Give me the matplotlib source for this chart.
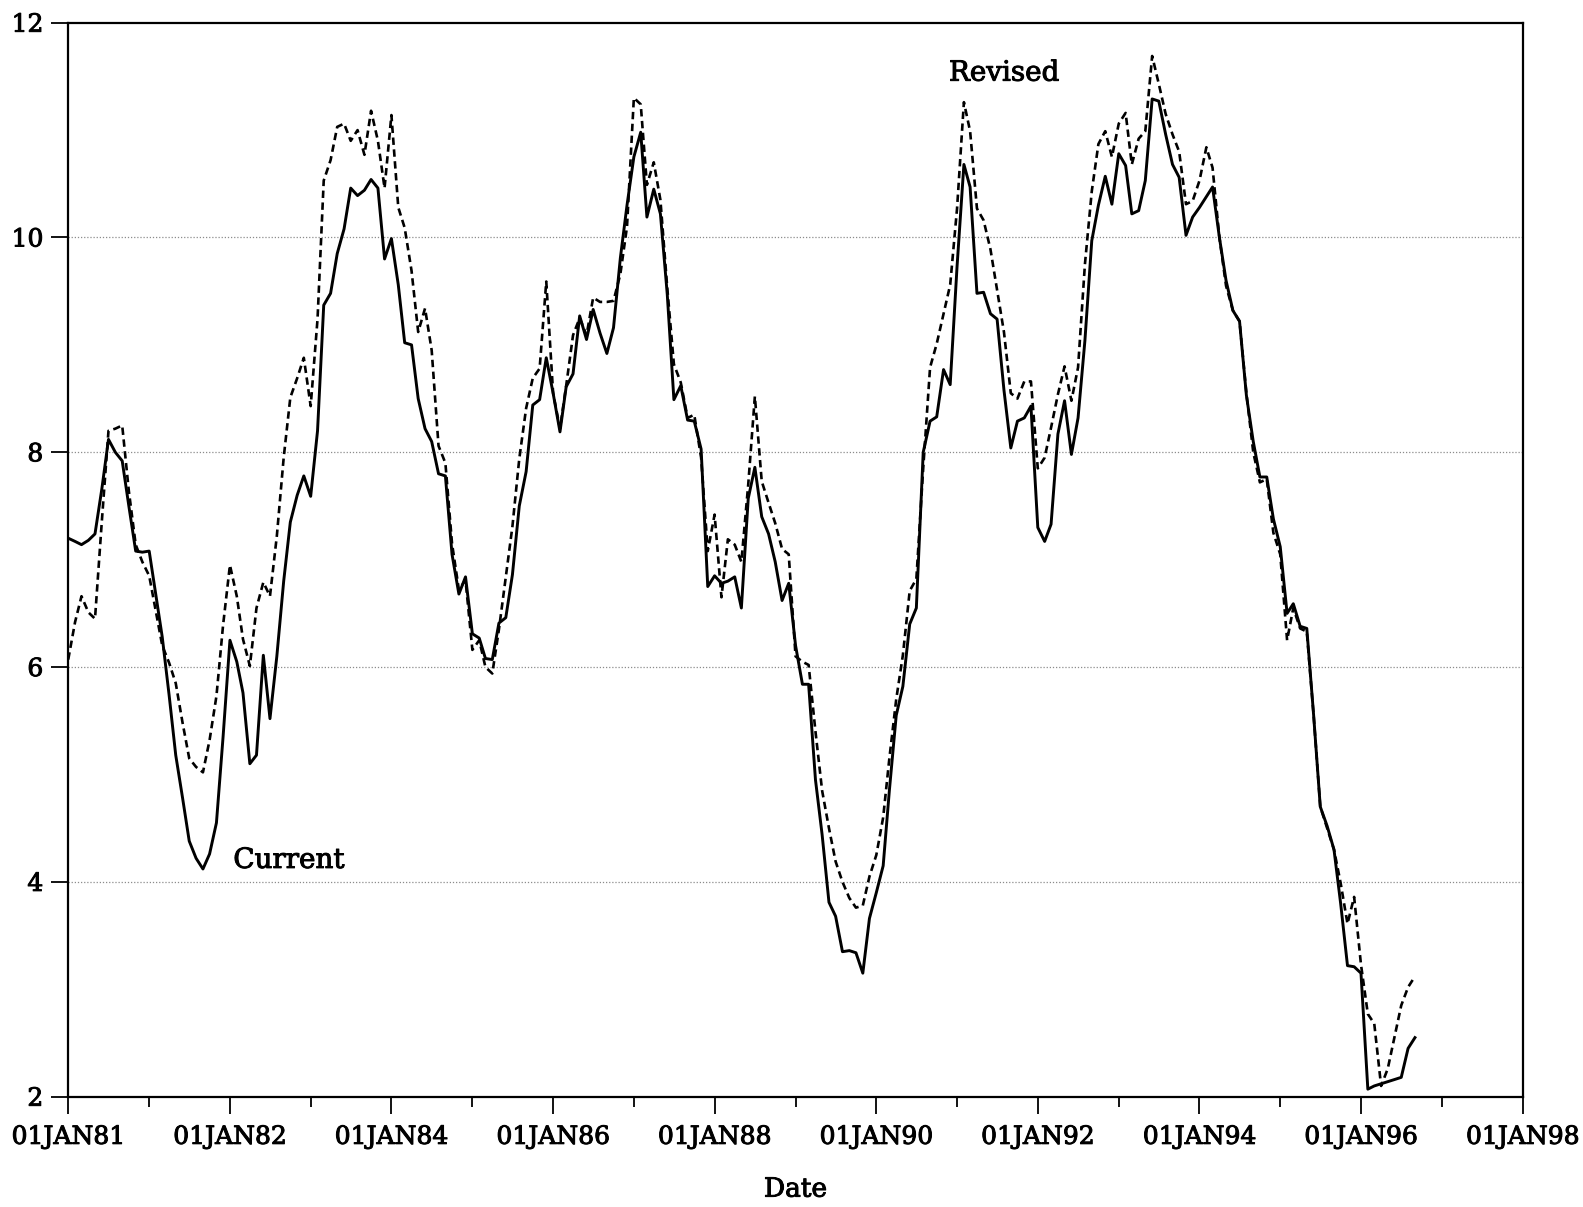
import numpy as np
import pandas as pd
import matplotlib
matplotlib.use("Agg")
import matplotlib.pyplot as plt
import matplotlib.dates as mdates
import matplotlib.patheffects as pe

# monthly series, Jan 1980 .. Sep 1996
months = pd.date_range("1980-01-01", periods=201, freq="MS")

current = [
    7.20, 7.17, 7.14, 7.18, 7.24, 7.66, 8.12, 8.00, 7.92, 7.50,
    7.08, 7.07, 7.08, 6.66, 6.28, 5.74, 5.18, 4.78, 4.38, 4.22,
    4.12, 4.26, 4.55, 5.35, 6.25, 6.05, 5.76, 5.10, 5.18, 6.11,
    5.52, 6.10, 6.80, 7.35, 7.60, 7.78, 7.59, 8.20, 9.37, 9.48,
    9.85, 10.08, 10.46, 10.39, 10.44, 10.54, 10.46, 9.80, 9.99, 9.56,
    9.02, 9.00, 8.50, 8.22, 8.10, 7.80, 7.78, 7.05, 6.68, 6.84,
    6.31, 6.27, 6.08, 6.07, 6.41, 6.46, 6.86, 7.50, 7.82, 8.44,
    8.49, 8.88, 8.55, 8.19, 8.61, 8.73, 9.27, 9.05, 9.33, 9.11,
    8.92, 9.16, 9.81, 10.30, 10.75, 10.98, 10.19, 10.45, 10.22, 9.47,
    8.49, 8.62, 8.30, 8.29, 8.03, 6.75, 6.85, 6.78, 6.80, 6.84,
    6.55, 7.57, 7.86, 7.40, 7.24, 6.98, 6.62, 6.78, 6.20, 5.84,
    5.84, 4.95, 4.44, 3.81, 3.68, 3.35, 3.36, 3.34, 3.15, 3.66,
    3.90, 4.15, 4.85, 5.55, 5.82, 6.40, 6.55, 8.00, 8.29, 8.33,
    8.77, 8.63, 9.73, 10.68, 10.47, 9.48, 9.49, 9.29, 9.24, 8.58,
    8.04, 8.29, 8.32, 8.43, 7.30, 7.17, 7.33, 8.17, 8.48, 7.98,
    8.32, 9.04, 9.97, 10.30, 10.57, 10.31, 10.78, 10.67, 10.22, 10.25,
    10.53, 11.29, 11.27, 10.96, 10.68, 10.56, 10.02, 10.19, 10.28, 10.38,
    10.47, 10.00, 9.60, 9.32, 9.22, 8.53, 8.10, 7.77, 7.77, 7.38,
    7.12, 6.50, 6.59, 6.38, 6.36, 5.55, 4.70, 4.52, 4.30, 3.80,
    3.22, 3.21, 3.15, 2.07, 2.10, 2.12, 2.14, 2.16, 2.18, 2.45,
    2.55,
]

revised = [
    6.07, 6.42, 6.66, 6.51, 6.45, 7.36, 8.20, 8.22, 8.25, 7.64,
    7.14, 6.98, 6.85, 6.51, 6.20, 6.04, 5.85, 5.48, 5.15, 5.07,
    5.02, 5.32, 5.73, 6.39, 6.95, 6.66, 6.26, 6.01, 6.55, 6.79,
    6.66, 7.22, 7.95, 8.51, 8.69, 8.88, 8.43, 9.24, 10.53, 10.72,
    11.03, 11.06, 10.90, 11.00, 10.77, 11.18, 10.90, 10.46, 11.14, 10.28,
    10.09, 9.69, 9.12, 9.34, 8.95, 8.06, 7.90, 7.15, 6.72, 6.81,
    6.16, 6.25, 6.00, 5.94, 6.35, 6.84, 7.31, 7.94, 8.41, 8.69,
    8.78, 9.59, 8.55, 8.22, 8.62, 9.09, 9.25, 9.09, 9.44, 9.40,
    9.40, 9.41, 9.66, 10.10, 11.30, 11.24, 10.49, 10.70, 10.35, 9.53,
    8.82, 8.65, 8.32, 8.35, 7.95, 7.08, 7.42, 6.65, 7.19, 7.14,
    6.98, 7.70, 8.52, 7.73, 7.53, 7.34, 7.10, 7.05, 6.10, 6.05,
    6.02, 5.40, 4.85, 4.50, 4.19, 4.00, 3.85, 3.76, 3.78, 4.05,
    4.25, 4.60, 5.15, 5.70, 6.11, 6.71, 6.82, 7.85, 8.79, 9.01,
    9.29, 9.56, 10.27, 11.26, 10.99, 10.27, 10.16, 9.89, 9.51, 9.12,
    8.55, 8.50, 8.66, 8.66, 7.85, 7.95, 8.23, 8.54, 8.80, 8.48,
    8.79, 9.75, 10.43, 10.87, 10.99, 10.75, 11.06, 11.16, 10.68, 10.92,
    10.99, 11.69, 11.43, 11.15, 10.96, 10.80, 10.31, 10.34, 10.53, 10.84,
    10.65, 10.00, 9.55, 9.32, 9.22, 8.55, 8.00, 7.72, 7.75, 7.25,
    7.05, 6.25, 6.55, 6.36, 6.33, 5.55, 4.70, 4.50, 4.30, 3.99,
    3.61, 3.86, 3.23, 2.77, 2.68, 2.10, 2.26, 2.56, 2.85, 3.02,
    3.12,
]

yticks = [2, 4, 6, 8, 10, 12]
grid_levels = [4, 6, 8, 10]
xtick_dates = pd.date_range("1980-01-01", "1998-01-01", freq="24MS")
xtick_labels = ["01JAN81", "01JAN82", "01JAN84", "01JAN86", "01JAN88",
                "01JAN90", "01JAN92", "01JAN94", "01JAN96", "01JAN98"]
minor_dates = pd.date_range("1981-01-01", "1997-01-01", freq="24MS")

plt.rcParams["font.family"] = ["DejaVu Serif"]

# slightly heavier text, like the scanned original
ink = [pe.withStroke(linewidth=0.7, foreground="black")]

fig = plt.figure(figsize=(15.83, 12.07), dpi=100)
ax = fig.add_axes([0.0431, 0.0914, 0.9188, 0.8898])

for g in grid_levels:
    ax.axhline(g, color="#8c8c8c", lw=0.9, ls=(0, (1, 1.5)), zorder=1)

ax.plot(months, current, color="black", lw=2.1, zorder=3)
ax.plot(months, revised, color="black", lw=1.9, ls=(0, (2.8, 1.7)), zorder=3)

ax.set_xlim(pd.Timestamp("1980-01-01"), pd.Timestamp("1998-01-01"))
ax.set_ylim(2, 12)
ax.set_yticks(yticks)
ax.set_yticklabels([str(t) for t in yticks])
ax.set_xticks(xtick_dates)
ax.set_xticklabels(xtick_labels)
ax.set_xticks(minor_dates, minor=True)

ax.tick_params(axis="both", which="major", direction="out", length=12,
               width=1.3, labelsize=18, colors="black")
ax.tick_params(axis="x", which="major", pad=9)
ax.tick_params(axis="x", which="minor", direction="out", length=7, width=1.3)
ax.tick_params(axis="y", pad=6)
for s in ax.spines.values():
    s.set_linewidth(1.6)

for lab in ax.get_xticklabels() + ax.get_yticklabels():
    lab.set_path_effects(ink)

ax.set_xlabel("Date", fontsize=19, labelpad=20, path_effects=ink)

ax.text(mdates.date2num(pd.Timestamp("1991-08-01")), 11.53, "Revised",
        fontsize=20, ha="center", va="center", path_effects=ink)
ax.text(mdates.date2num(pd.Timestamp("1982-09-24")), 4.20, "Current",
        fontsize=20, ha="center", va="center", path_effects=ink)

fig.savefig("out.png", dpi=100)
